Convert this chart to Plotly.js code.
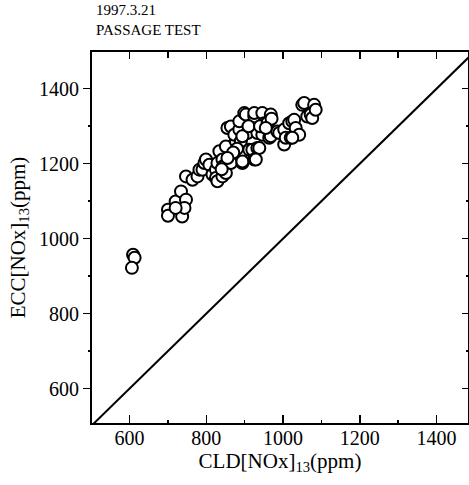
<!DOCTYPE html>
<html>
<head>
<meta charset="utf-8">
<script src="https://cdn.plot.ly/plotly-3.0.1.min.js"></script>
<style>html,body{margin:0;padding:0;background:#fff;}#chart{width:469px;height:485px;}</style>
</head>
<body>
<div id="chart"></div>
<script>
// CLD[NOx]13 (ppm) readings
var cldNOx = [609,613,606,
  700,700,720,737,734,747,743,747,764,777,782,790,795,799,808,816,825,825,829,829,834,842,842,844,847,
  851,860,864,851,877,894,894,912,920,933,938,925,929,855,864,873,886,886,890,899,903,907,894,
  925,925,946,951,968,933,951,946,964,968,985,990,1003,1003,1007,1020,1016,1024,1029,1033,1042,1024,
  1050,1055,1063,1072,1076,1081,1085,910,940,960,970,955,880,870,720,855,840];
// ECC[NOx]13 (ppm) readings
var eccNOx = [957,949,922,
  1077,1061,1099,1059,1126,1104,1082,1166,1157,1166,1184,1184,1202,1211,1197,1171,1184,1162,1153,1202,1233,1211,1166,1193,1193,
  1175,1219,1202,1246,1260,1202,1206,1237,1237,1242,1242,1211,1211,1295,1299,1277,1291,1313,1260,1335,1331,1282,1273,
  1326,1335,1335,1308,1331,1282,1282,1277,1269,1273,1286,1282,1291,1251,1269,1269,1308,1313,1317,1295,1277,1269,
  1357,1362,1326,1331,1322,1357,1344,1300,1300,1310,1320,1295,1240,1230,1082,1215,1185];
// y = x reference line
var refX = [500, 1500];
var refY = [500, 1500];
var xTickVals = [600, 800, 1000, 1200, 1400];
var yTickVals = [600, 800, 1000, 1200, 1400];

var serif = 'Liberation Serif, Times New Roman, serif';
var xr = [502, 1482];
var yr = [508, 1498];

var traces = [
  {x: refX, y: refY, mode: 'lines', line: {color: '#000', width: 2}, hoverinfo: 'skip', showlegend: false},
  {x: cldNOx, y: eccNOx, mode: 'markers', showlegend: false,
   marker: {symbol: 'circle', size: 12, color: '#fff', line: {color: '#000', width: 2}}},
  {x: [], y: [], xaxis: 'x2', yaxis: 'y2', mode: 'markers', showlegend: false}
];

var axisCommon = {
  showgrid: false, zeroline: false, showline: true, linecolor: '#000', linewidth: 2,
  tickcolor: '#000', tickwidth: 1.5
};

var layout = {
  width: 469, height: 485,
  margin: {l: 92, r: 1, t: 52, b: 62},
  paper_bgcolor: '#fff', plot_bgcolor: '#fff',
  font: {family: serif, color: '#000'},
  xaxis: Object.assign({}, axisCommon, {
    range: xr, tickvals: xTickVals, ticks: 'inside', ticklen: 8,
    ticklabelstandoff: -4,
    tickfont: {family: serif, size: 20, color: '#000'},
    minor: {dtick: 100, tick0: 500, ticks: 'inside', ticklen: 3, tickcolor: '#000', tickwidth: 1.5},
    title: {text: 'CLD[NOx]<sub>13</sub>(ppm)', font: {family: serif, size: 21, color: '#000'}, standoff: 4}
  }),
  yaxis: Object.assign({}, axisCommon, {
    range: yr, tickvals: yTickVals, ticks: 'outside', ticklen: 7,
    tickfont: {family: serif, size: 20, color: '#000'},
    minor: {dtick: 100, tick0: 500, ticks: 'outside', ticklen: 2, tickcolor: '#000', tickwidth: 1.5},
    title: {text: 'ECC[NOx]<sub>13</sub>(ppm)', font: {family: serif, size: 21, color: '#000'}, standoff: 8}
  }),
  xaxis2: Object.assign({}, axisCommon, {
    overlaying: 'x', side: 'top', anchor: 'y2', range: xr, showticklabels: false,
    tickvals: xTickVals, ticks: 'inside', ticklen: 7,
    minor: {dtick: 100, tick0: 500, ticks: 'inside', ticklen: 6, tickcolor: '#000', tickwidth: 1.5}
  }),
  yaxis2: Object.assign({}, axisCommon, {
    overlaying: 'y', side: 'right', anchor: 'x2', range: yr, showticklabels: false, linewidth: 1,
    tickvals: yTickVals, ticks: 'inside', ticklen: 6,
    minor: {dtick: 100, tick0: 500, ticks: 'inside', ticklen: 2, tickcolor: '#000', tickwidth: 1.5}
  }),
  annotations: [{
    text: '1997.3.21<br>PASSAGE TEST', xref: 'paper', yref: 'paper', x: 0.005, y: 1,
    xanchor: 'left', yanchor: 'bottom', yshift: 12, align: 'left', showarrow: false,
    font: {family: serif, size: 15, color: '#000'}
  }]
};

Plotly.newPlot('chart', traces, layout, {staticPlot: true, displayModeBar: false});
</script>
</body>
</html>
